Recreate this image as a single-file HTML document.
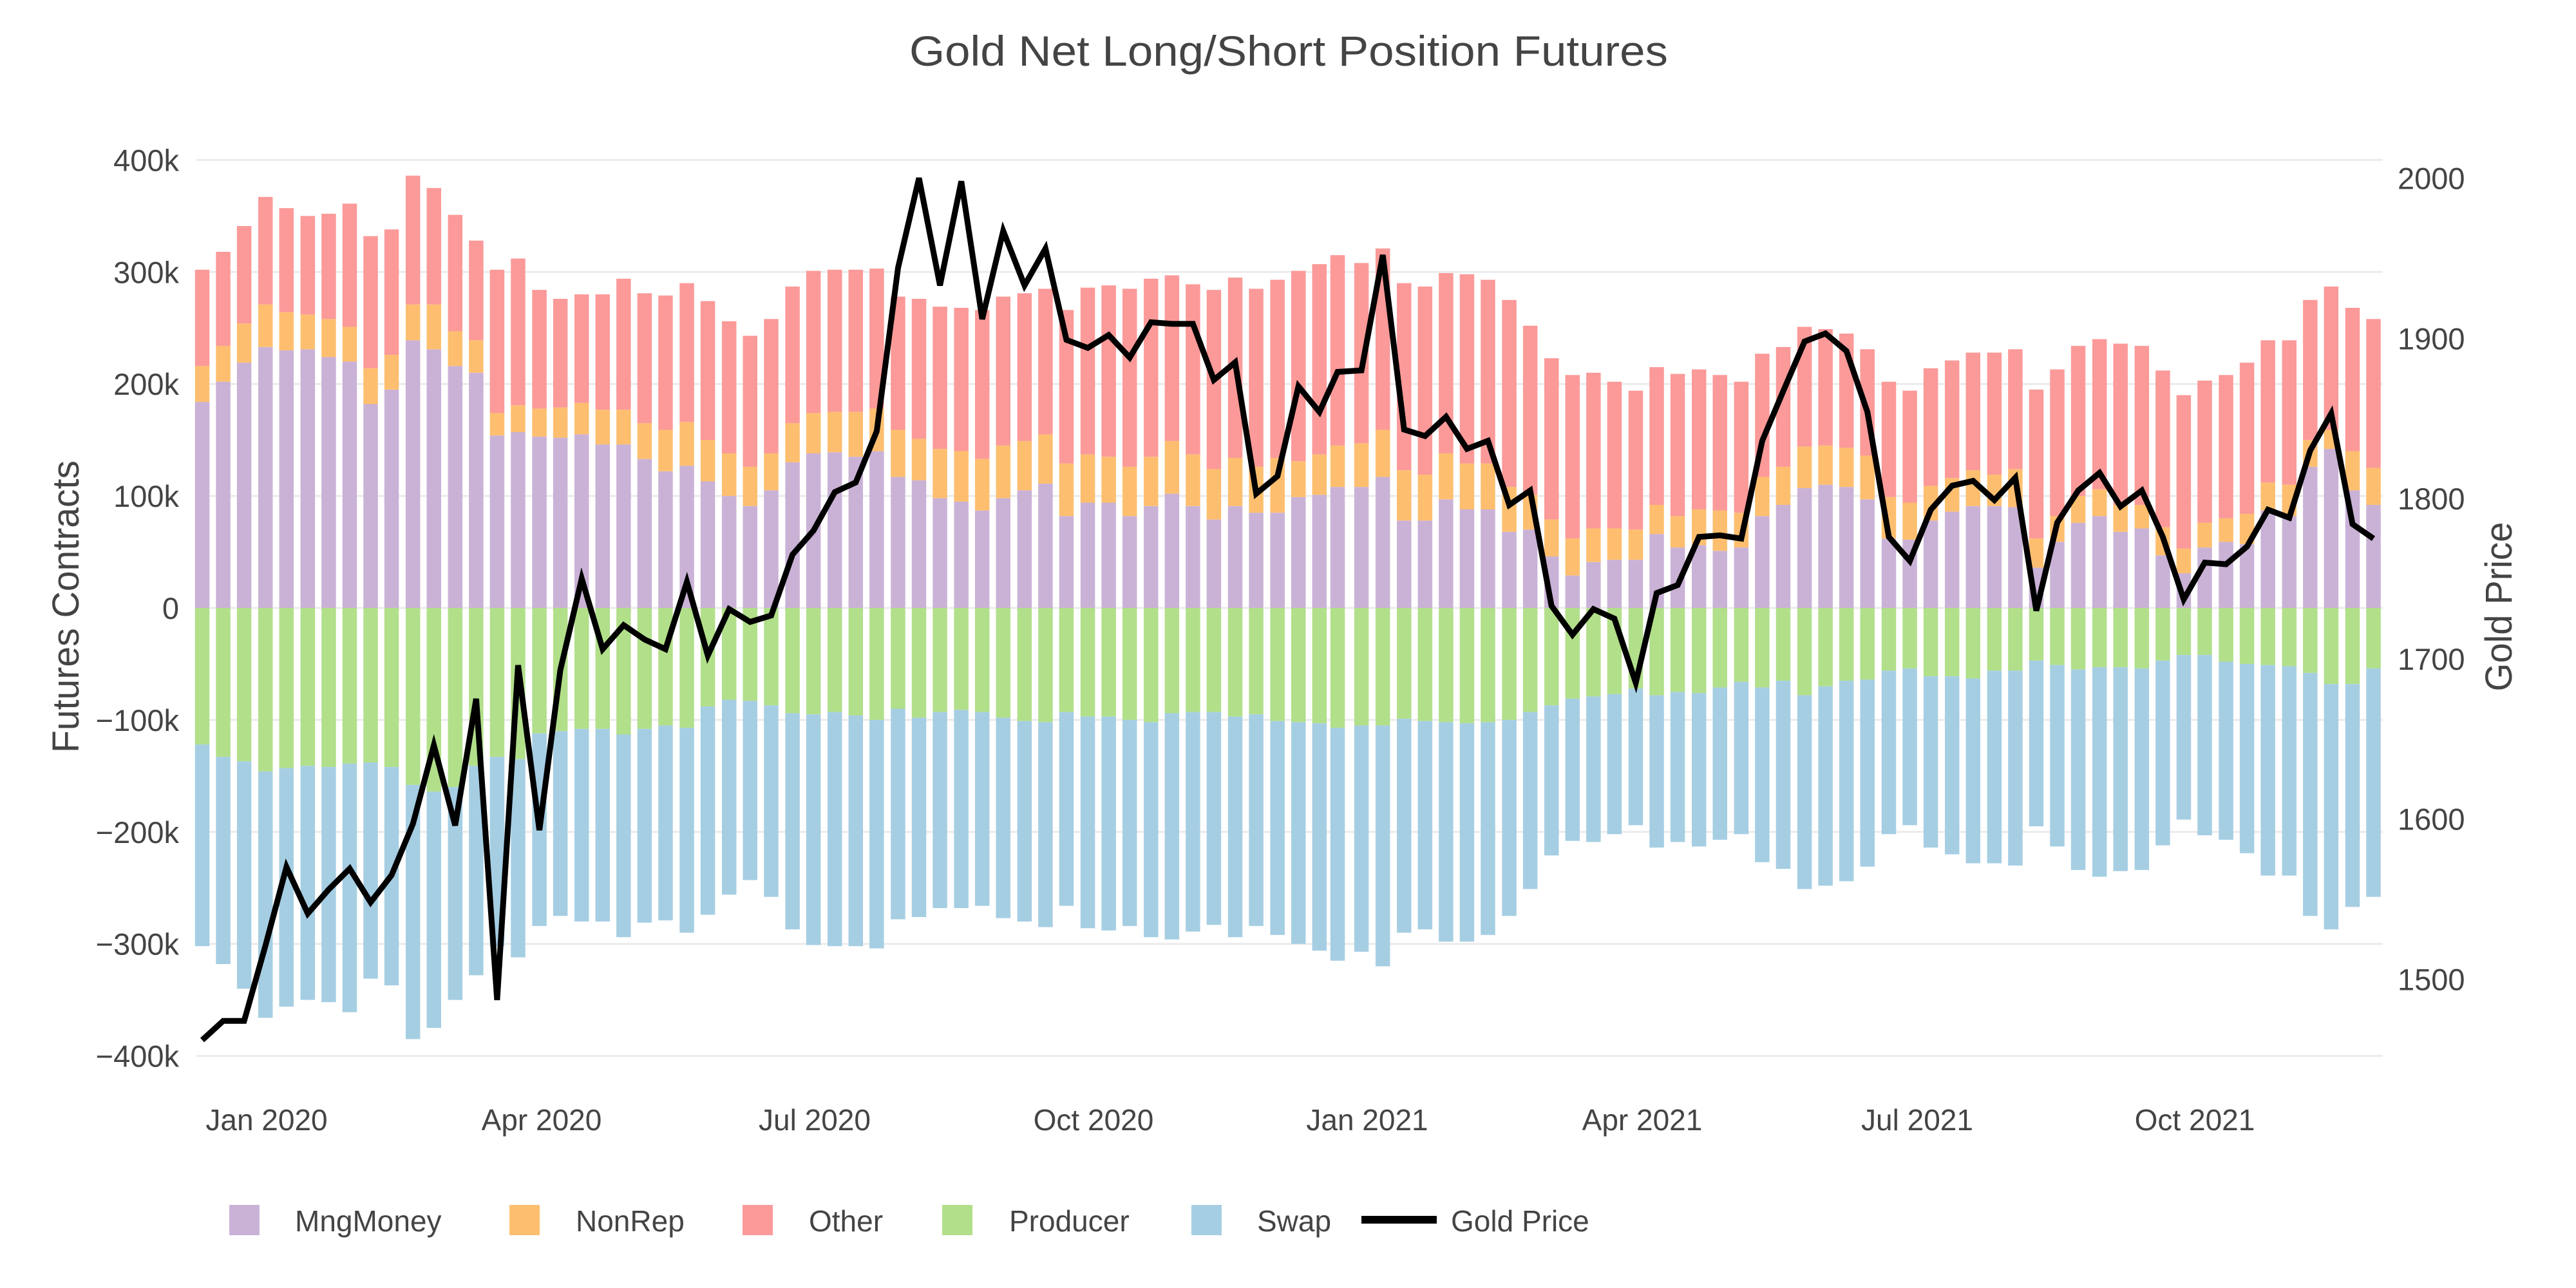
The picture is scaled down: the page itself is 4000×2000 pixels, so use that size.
<!DOCTYPE html>
<html><head><meta charset="utf-8"><style>
html,body{margin:0;padding:0;background:#fff;}
svg{display:block;}
text{font-family:"Liberation Sans",sans-serif;fill:#444;}
</style></head><body>
<svg id="c" width="4000" height="2000" viewBox="0 0 4000 2000" xmlns="http://www.w3.org/2000/svg">
<rect width="4000" height="2000" fill="#fff"/>
<g id="grid"></g><g id="bars"></g><g id="line"></g><g id="labels"></g>
<text x="2001" y="102" font-size="66" text-anchor="middle" textLength="1178" lengthAdjust="spacingAndGlyphs">Gold Net Long/Short Position Futures</text>
<text transform="translate(122,942) rotate(-90)" font-size="58" text-anchor="middle" textLength="454" lengthAdjust="spacingAndGlyphs">Futures Contracts</text>
<text transform="translate(3900,942) rotate(-90)" font-size="58" text-anchor="middle" textLength="263" lengthAdjust="spacingAndGlyphs">Gold Price</text>
<g font-size="46">
<rect x="356" y="1871" width="47" height="47" fill="#cab2d6"/><text x="458" y="1912">MngMoney</text>
<rect x="791" y="1871" width="47" height="47" fill="#fdbf6f"/><text x="894" y="1912">NonRep</text>
<rect x="1153" y="1871" width="47" height="47" fill="#fb9a99"/><text x="1256" y="1912">Other</text>
<rect x="1463" y="1871" width="47" height="47" fill="#b2df8a"/><text x="1567" y="1912">Producer</text>
<rect x="1850" y="1871" width="47" height="47" fill="#a6cee3"/><text x="1952" y="1912">Swap</text>
<line x1="2114" y1="1894" x2="2231" y2="1894" stroke="#000" stroke-width="12"/><text x="2253" y="1912">Gold Price</text>
</g>
</svg>
<script>
var NS="http://www.w3.org/2000/svg";
function el(p,t,a,txt){var e=document.createElementNS(NS,t);for(var k in a)e.setAttribute(k,a[k]);if(txt!=null)e.textContent=txt;document.getElementById(p).appendChild(e);return e;}
var Y0=944,K=1.739;
function yv(v){return Y0-v*K;}
function yg(g){return 276.5+(2000-g)*2.488;}
for(var v=-400;v<=400;v+=100){var y=yv(v);el("grid","line",{x1:305,x2:3700,y1:y,y2:y,stroke:"#ebebeb","stroke-width":3});
var lab=v==0?"0":(v<0?"\u2212"+(-v)+"k":v+"k");el("labels","text",{x:278,y:y+17,"font-size":47,"text-anchor":"end"},lab);}
for(var g=1500;g<=2000;g+=100){el("labels","text",{x:3723,y:yg(g)+17,"font-size":47},""+g);}
var xl=[["Jan 2020",414],["Apr 2020",841],["Jul 2020",1265],["Oct 2020",1698],["Jan 2021",2123],["Apr 2021",2550],["Jul 2021",2977],["Oct 2021",3408]];
xl.forEach(function(a){el("labels","text",{x:a[1],y:1755,"font-size":46,"text-anchor":"middle"},a[0]);});
var segs=[[300,[25,83,141,200,258,317,375,433,491,549,608,666,725,783,841,899,958,1016,1075,1133,1191,1249,1307,1366,1424,1483,1541]],
[1170,[49,108,166,225,283,341,400,458,516,575,633,691,750,808,866,925,983,1041,1100,1158,1216,1274,1333,1391,1450,1508,1566]],
[2040,[66,132,191,250,308,366,424,482,541,599,658,716,774,832,891,949,1007,1066,1124,1183,1241,1299,1358,1416,1474,1532]],
[2910,[41,99,157,216,274,333,391,449,507,565,624,682,741,799,857,915,974,1032,1090,1149,1207,1265,1324,1382]]];
var xs=[];segs.forEach(function(s){s[1].forEach(function(z){xs.push(s[0]+z/1.782);});});
var D=[[184,216,302,-122,-302],[202,234,318,-133,-318],[219,254,341,-137,-340],[233,271,367,-146,-366],[230,264,357,-143,-356],[231,262,350,-141,-350],[224,258,352,-142,-352],[220,251,361,-139,-361],[182,214,332,-138,-331],[195,226,338,-142,-337],[239,271,386,-158,-385],[231,271,375,-164,-375],[216,247,351,-160,-350],[210,239,328,-141,-328],[154,174,302,-133,-302],[157,181,312,-135,-312],
[153,178,284,-112,-284],[152,179,276,-110,-275],[155,183,280,-108,-280],[146,177,280,-108,-280],[146,177,294,-113,-294],[133,165,281,-108,-281],[122,159,279,-105,-279],[127,166,290,-107,-290],[113,150,274,-88,-274],[100,138,256,-82,-256],[91,126,243,-83,-243],
[105,138,258,-87,-258],[130,165,287,-94,-287],[138,174,301,-95,-301],[139,175,302,-93,-302],[135,175,302,-96,-302],[140,178,303,-100,-304],[117,159,278,-90,-278],[114,151,276,-98,-276],[98,142,269,-93,-268],[95,140,268,-91,-268],[87,133,266,-93,-266],[98,145,278,-98,-277],[105,149,281,-101,-280],[111,155,285,-102,-285],[82,129,266,-93,-266],[94,137,286,-97,-286],[94,135,288,-97,-288],[82,126,285,-100,-284],[91,135,294,-102,-294],[102,149,297,-94,-296],[91,137,289,-93,-289],[79,124,284,-93,-283],[91,134,295,-97,-294],[85,126,285,-95,-284],[85,134,293,-101,-292],[99,131,301,-102,-300],[101,137,307,-103,-306],
[108,145,315,-107,-315],[108,147,308,-105,-307],[117,159,321,-105,-320],[78,123,290,-99,-290],[78,119,287,-101,-287],[97,138,299,-102,-298],[88,129,298,-103,-298],[88,129,293,-102,-292],[68,108,275,-100,-275],[70,101,252,-93,-251],[46,79,223,-87,-221],[29,62,208,-81,-208],[41,71,210,-79,-209],[43,71,202,-77,-202],[43,70,194,-72,-194],[66,92,215,-78,-214],[54,82,209,-75,-209],[56,88,213,-76,-213],[51,87,208,-71,-207],[54,85,202,-66,-202],[82,117,227,-71,-227],[92,126,233,-65,-233],[107,144,251,-78,-251],[110,145,249,-70,-248],[108,143,245,-65,-244],[97,136,231,-64,-231],
[62,99,202,-56,-202],[61,94,194,-54,-194],[78,109,214,-61,-214],[86,116,221,-61,-220],[91,123,228,-63,-228],[91,119,228,-56,-228],[90,124,231,-56,-230],[36,62,195,-47,-195],[59,82,213,-51,-213],[76,100,234,-55,-234],[82,106,240,-53,-240],[68,92,236,-53,-235],[71,92,234,-54,-234],[47,72,212,-47,-212],[31,53,190,-42,-189],[54,76,203,-42,-203],[59,80,208,-48,-207],[57,84,219,-50,-219],[87,112,239,-51,-239],[82,110,239,-52,-239],[126,150,275,-58,-275],[142,159,287,-68,-287],[105,140,268,-68,-267],[92,125,258,-54,-258]];
var G=[1462,1474,1474,1521,1570,1541,1556,1569,1548,1565,1597,1646,1596,1675,1487,1696,1593,1693,1750,1706,1721,1712,1706,1748,1702,1731,1723,
1727,1765,1780,1804,1810,1842,1944,2000,1933,1998,1912,1967,1933,1956,1899,1894,1902,1888,1910,1909,1909,1874,1885,1803,1814,1870,1854,
1879,1880,1952,1843,1839,1851,1831,1836,1796,1805,1733,1715,1731,1725,1685,1741,1746,1776,1777,1775,1836,1867,1898,1903,1892,1854,
1776,1761,1793,1808,1811,1799,1813,1730,1785,1805,1816,1795,1805,1776,1737,1760,1759,1770,1793,1788,1830,1853,1784,1775];
var W=22.5;
function r(x,a,b,c){var t=Math.min(yv(a),yv(b)),h=Math.abs(yv(a)-yv(b));el("bars","rect",{x:x-W/2,y:t,width:W,height:h,fill:c});}
for(var i=0;i<xs.length&&i<D.length;i++){var x=xs[i],d=D[i];
r(x,0,d[0],"#cab2d6");r(x,d[0],d[1],"#fdbf6f");r(x,d[1],d[2],"#fb9a99");r(x,0,d[3],"#b2df8a");r(x,d[3],d[4],"#a6cee3");}
var pts=[];for(var j=0;j<G.length&&j<xs.length;j++)pts.push(xs[j].toFixed(1)+","+yg(G[j]).toFixed(1));
el("line","polyline",{points:pts.join(" "),fill:"none",stroke:"#000","stroke-width":9,"stroke-linejoin":"miter","stroke-miterlimit":4});
</script>
</body></html>
